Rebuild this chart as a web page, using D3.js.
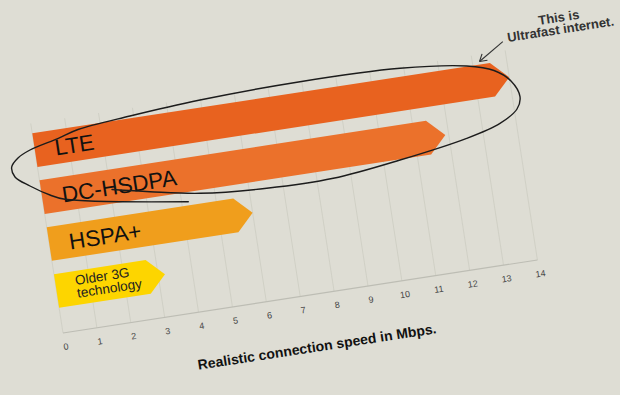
<!DOCTYPE html>
<html>
<head>
<meta charset="utf-8">
<script src="https://cdn.jsdelivr.net/npm/d3@7"></script>
<style>
  html, body { margin: 0; padding: 0; background: #DEDDD4; }
  svg { display: block; }
</style>
</head>
<body>
<svg id="chart" width="620" height="395"></svg>
<script>
// ---- data ----
const categories = ["LTE", "DC-HSDPA", "HSPA+", "Older 3G technology"];
const speeds = [14, 11.9, 6, 3.2];
const barLabels = [["LTE"], ["DC-HSDPA"], ["HSPA+"], ["Older 3G", "technology"]];
const barColors = ["#E8621F", "#EB712B", "#F09E1C", "#FDD500"];
const tickValues = [0,1,2,3,4,5,6,7,8,9,10,11,12,13,14];
const axisTitle = "Realistic connection speed in Mbps.";
const calloutLines = ["This is", "Ultrafast internet."];
// hand-drawn loop around the two fastest bars (screen coords)
const loopPoints = [
  [112,189.5],[150,191.7],[200,193.3],[266.7,188.3],[333.3,178.3],[400,160],
  [466.7,138.3],[500,123.3],[517,109],[520,96.7],[511,81],[494,70.5],[466.7,66],
  [400,68.3],[300,81.7],[200,100],[130,116],[78,129.5],[58.3,138.3],[30,150],
  [18,158],[11.7,167],[15,177],[30,186],[50,195],[65,199.3],[188.3,201.7]
];

const svg = d3.select("#chart");
svg.append("rect").attr("width", 620).attr("height", 395).attr("fill", "#DEDDD4");

const angle = -8.75;
const g = svg.append("g").attr("transform", `translate(63,333) rotate(${angle})`);

const x = d3.scaleLinear().domain([0, 14]).range([0, 480]);
const y = d3.scaleBand().domain(categories).range([-202, -25.5]).paddingInner(0.284).paddingOuter(0);

// gridlines
g.append("g").selectAll("line").data(tickValues).join("line")
  .attr("x1", d => x(d)).attr("x2", d => x(d))
  .attr("y1", 0).attr("y2", -212)
  .attr("stroke", "#CDCDC3").attr("stroke-width", 0.8);

// axis line
g.append("line").attr("x1", x(0)).attr("x2", x(14)).attr("y1", 0).attr("y2", 0)
  .attr("stroke", "#BDBDB4").attr("stroke-width", 1.2);

// tick labels
g.append("g").selectAll("text").data(tickValues).join("text")
  .attr("x", d => x(d) + 1).attr("y", 17)
  .attr("text-anchor", "middle")
  .attr("font-family", "Liberation Sans, Arial, sans-serif")
  .attr("font-size", 9).attr("fill", "#444")
  .text(d => d);

// bars (arrow shaped)
const point = 17;
g.append("g").selectAll("path").data(categories).join("path")
  .attr("d", (c, i) => {
    const t = y(c), b = t + y.bandwidth(), m = t + y.bandwidth() / 2;
    const e = x(speeds[i]);
    return `M${x(0)},${t}L${e - point},${t}L${e},${m}L${e - point},${b}L${x(0)},${b}Z`;
  })
  .attr("fill", (c, i) => barColors[i]);

// bar labels
categories.forEach((c, i) => {
  const m = y(c) + y.bandwidth() / 2;
  const lines = barLabels[i];
  if (lines.length === 1) {
    g.append("text").attr("x", 20).attr("y", m + 8.5)
      .attr("font-family", "Liberation Sans, Arial, sans-serif")
      .attr("font-size", 22.5).attr("fill", "#111")
      .text(lines[0]);
  } else {
    lines.forEach((ln, k) => {
      g.append("text").attr("x", 20).attr("y", m - 3 + k * 13)
        .attr("font-family", "Liberation Sans, Arial, sans-serif")
        .attr("font-size", 13.5).attr("fill", "#222")
        .text(ln);
    });
  }
});

// axis title
g.append("text").attr("x", x(7) + 9).attr("y", 57)
  .attr("text-anchor", "middle")
  .attr("font-family", "Liberation Sans, Arial, sans-serif")
  .attr("font-weight", "bold").attr("font-size", 14).attr("fill", "#111")
  .text(axisTitle);

// callout text
calloutLines.forEach((ln, k) => {
  g.append("text").attr("x", 538).attr("y", -232 + k * 12)
    .attr("text-anchor", "middle")
    .attr("font-family", "Liberation Sans, Arial, sans-serif")
    .attr("font-weight", "bold").attr("font-size", 13).attr("fill", "#333")
    .text(ln);
});

// callout arrow
const a0 = [479, -221], a1 = [453, -205];
g.append("line").attr("x1", a0[0]).attr("y1", a0[1]).attr("x2", a1[0]).attr("y2", a1[1])
  .attr("stroke", "#333").attr("stroke-width", 1.1);
const ang = Math.atan2(a0[1] - a1[1], a0[0] - a1[0]);
[-0.55, 0.55].forEach(da => {
  g.append("line").attr("x1", a1[0]).attr("y1", a1[1])
    .attr("x2", a1[0] + 8 * Math.cos(ang + da)).attr("y2", a1[1] + 8 * Math.sin(ang + da))
    .attr("stroke", "#333").attr("stroke-width", 1.1);
});

// hand-drawn loop
svg.append("path")
  .attr("d", d3.line().curve(d3.curveCatmullRom.alpha(0.5))(loopPoints))
  .attr("fill", "none").attr("stroke", "#1c1c1c").attr("stroke-width", 1.4)
  .attr("stroke-linecap", "round");
</script>
</body>
</html>
